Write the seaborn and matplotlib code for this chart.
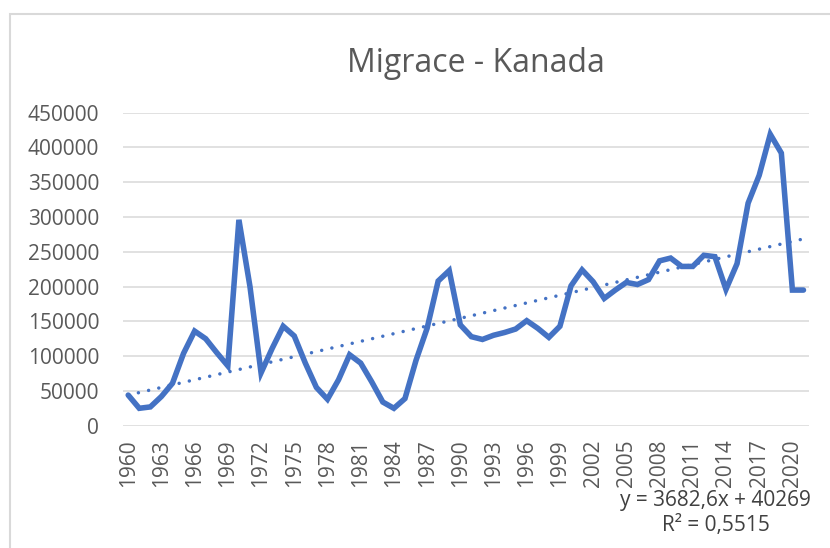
import numpy as np
import pandas as pd
import matplotlib
matplotlib.use("Agg")
import matplotlib.pyplot as plt
import seaborn as sns
from matplotlib.patches import Rectangle

years = list(range(1960, 2022))
migrace = [44000, 25000, 27000, 42000, 61000, 104000, 136000, 125000, 105000, 86000,
           296000, 200000, 76000, 111000, 143000, 129000, 90000, 55000, 38000, 66000,
           102000, 90000, 63000, 34000, 25000, 39000, 94000, 140000, 208000, 223000,
           145000, 128000, 124000, 130000, 134000, 139000, 151000, 140000, 127000, 143000,
           201000, 224000, 207000, 183000, 195000, 206000, 203000, 210000, 237000, 241000,
           229000, 229000, 245000, 243000, 196000, 233000, 320000, 360000, 419000, 392000,
           195000, 195000]

# koeficienty trendu (z Excelu)
slope = 3682.6
intercept = 40269
r2 = 0.5515

df = pd.DataFrame({'Rok': years, 'Migrace': migrace})
df['Trend'] = slope * (np.arange(len(years)) + 1) + intercept

sns.set_style("white")
plt.rcParams['font.family'] = ['Open Sans', 'DejaVu Sans']

fig = plt.figure(figsize=(8.3, 5.48), dpi=100)
ax = fig.add_axes([0.1478, 0.2232, 0.8269, 0.5711])

# ramecek grafu
fig.patches.append(Rectangle((10 / 830, -0.1), 2, 1 - 14 / 548 + 0.1, transform=fig.transFigure,
                             fill=False, edgecolor='#D9D9D9', linewidth=1.5))

sns.lineplot(data=df, x='Rok', y='Migrace', ax=ax, color='#4472C4', linewidth=4.0,
             solid_joinstyle='miter')
ax.plot(df['Rok'], df['Trend'], color='#4472C4', linewidth=2.5,
        linestyle=(0, (0.01, 3.0)), dash_capstyle='round')

ax.set_xlim(1959.5, 2021.5)
ax.set_ylim(0, 450000)
ax.set_yticks(range(0, 450001, 50000))
ax.set_yticklabels([str(v) for v in range(0, 450001, 50000)])
ax.set_xticks(years[::3])
ax.set_xticklabels([str(y) for y in years[::3]], rotation=90)
ax.tick_params(axis='both', length=0, labelsize=15, labelcolor='#595959')
ax.tick_params(axis='y', pad=17)
ax.tick_params(axis='x', pad=10)
ax.grid(axis='y', color='#D9D9D9', linewidth=1.1)
ax.set_axisbelow(True)
for s in ax.spines.values():
    s.set_visible(False)
ax.set_xlabel('')
ax.set_ylabel('')

fig.text(0.573, 0.885, 'Migrace - Kanada', ha='center', va='center', fontsize=23, color='#595959')
fig.text(0.862, 0.064, 'y = 3682,6x + 40269\nR² = 0,5515', ha='center', va='center',
         fontsize=15, color='#404040', linespacing=1.2)

fig.savefig('out.png', dpi=100)
